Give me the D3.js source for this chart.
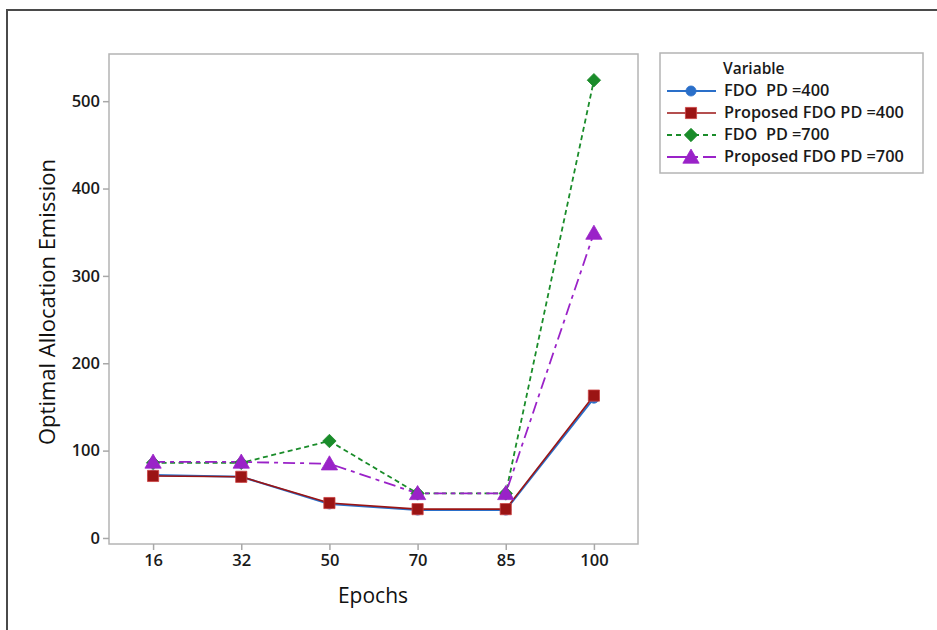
<!DOCTYPE html>
<html><head><meta charset="utf-8">
<script src="https://cdn.jsdelivr.net/npm/d3@7"></script>
<style>
body{margin:0;background:#fff;}
text{font-family:"Open Sans","Noto Sans",sans-serif;white-space:pre;}
</style></head>
<body>
<svg id="chart" width="937" height="630"></svg>
<script>
const epochs = ["16","32","50","70","85","100"];
const fdo400 = [72, 70, 39, 32, 32, 160];
const prop400 = [71, 70, 40, 33, 33, 163];
const fdo700 = [86, 86, 111, 51, 51, 524];
const prop700 = [87, 87, 85, 51, 51, 349];
const yTicks = [0, 100, 200, 300, 400, 500];
const seriesNames = ["FDO  PD =400", "Proposed FDO PD =400", "FDO  PD =700", "Proposed FDO PD =700"];

const series = [
  {name: seriesNames[0], values: fdo400, color: "#2a6fc9", dash: null, sym: "circle", width: 2},
  {name: seriesNames[1], values: prop400, color: "#9b1414", dash: null, sym: "square", width: 1.6},
  {name: seriesNames[2], values: fdo700, color: "#1a8c2a", dash: "5,3.5", sym: "diamond", width: 1.8},
  {name: seriesNames[3], values: prop700, color: "#9a22c8", dash: "12,5,4,5", sym: "triangle", width: 1.8}
];

const svg = d3.select("#chart");
const L = 109, R = 638, T = 54, B = 544;

svg.append("path").attr("d", `M7,937 V10 H937`).attr("fill","none").attr("stroke","#4a4a4a").attr("stroke-width",2);

const x = d3.scalePoint().domain(epochs).range([L, R]).padding(0.5);
const y = d3.scaleLinear().domain([-6.9, 554]).range([B, T]);

svg.append("rect").attr("x", L).attr("y", T).attr("width", R-L).attr("height", B-T)
  .attr("fill","none").attr("stroke","#b4b4b4").attr("stroke-width",1.5);

const xAxis = svg.append("g").attr("transform", `translate(0,${B})`)
  .call(d3.axisBottom(x).tickSize(6).tickPadding(4));
const yAxis = svg.append("g").attr("transform", `translate(${L},0)`)
  .call(d3.axisLeft(y).tickValues(yTicks).tickSize(6).tickPadding(3));
[xAxis, yAxis].forEach(g => {
  g.select(".domain").remove();
  g.selectAll(".tick line").attr("stroke","#a8a8a8").attr("stroke-width",1.5);
  g.selectAll(".tick text").attr("fill","#1a1a1a").attr("font-size",16.5).attr("font-weight",600)
    .attr("font-family","'Open Sans','Noto Sans',sans-serif");
});

svg.append("text").attr("x", 373).attr("y", 603).attr("text-anchor","middle")
  .attr("font-size",21).attr("font-weight",500).attr("fill","#111").text("Epochs");
svg.append("text").attr("transform","translate(55,302) rotate(-90)").attr("text-anchor","middle")
  .attr("font-size",22).attr("font-weight",500).attr("fill","#111").text("Optimal Allocation Emission");

const diamond = {draw(ctx, size){ const r = Math.sqrt(size/2); ctx.moveTo(0,-r); ctx.lineTo(r,0); ctx.lineTo(0,r); ctx.lineTo(-r,0); ctx.closePath(); }};
const symMap = {circle: d3.symbolCircle, square: d3.symbolSquare, diamond: diamond, triangle: d3.symbolTriangle};
const symSize = {circle: 80, square: 125, diamond: 90, triangle: 115};

const line = d3.line().x((d,i) => x(epochs[i])).y(d => y(d));

series.forEach(s => {
  svg.append("path").datum(s.values).attr("d", line).attr("fill","none")
    .attr("stroke", s.color).attr("stroke-width", s.width)
    .attr("stroke-dasharray", s.dash);
});
series.forEach(s => {
  svg.append("g").selectAll("path").data(s.values).join("path")
    .attr("transform", (d,i) => `translate(${x(epochs[i])},${y(d) + (s.sym==="triangle"?1.5:0)})`)
    .attr("d", d3.symbol().type(symMap[s.sym]).size(symSize[s.sym]))
    .attr("fill", s.color)
    .attr("stroke", s.sym==="square" ? "#c44" : s.color).attr("stroke-width", 0.8);
});

const lg = svg.append("g");
lg.append("rect").attr("x",660).attr("y",53).attr("width",263).attr("height",120)
  .attr("fill","#fff").attr("stroke","#b4b4b4").attr("stroke-width",1.5);
lg.append("text").attr("x",723).attr("y",74).attr("font-size",15.5).attr("font-weight",600).attr("fill","#1a1a1a").text("Variable");
const rowY = [91, 113, 135, 157];
series.forEach((s,i) => {
  const yy = rowY[i];
  lg.append("line").attr("x1",667).attr("x2",716).attr("y1",yy).attr("y2",yy)
    .attr("stroke", s.color).attr("stroke-width", s.width).attr("stroke-dasharray", s.dash ? (s.sym==="triangle" ? "20,7,4,5" : "5,4") : null);
  lg.append("path").attr("transform",`translate(691,${yy + (s.sym==="triangle"?1.5:0)})`)
    .attr("d", d3.symbol().type(symMap[s.sym]).size(symSize[s.sym]))
    .attr("fill", s.color).attr("stroke", s.sym==="square" ? "#c44" : s.color).attr("stroke-width",0.8);
  lg.append("text").attr("x",724).attr("y",yy+5).attr("font-size",16.3).attr("font-weight",600).attr("fill","#1a1a1a").text(s.name);
});
</script>
</body></html>
